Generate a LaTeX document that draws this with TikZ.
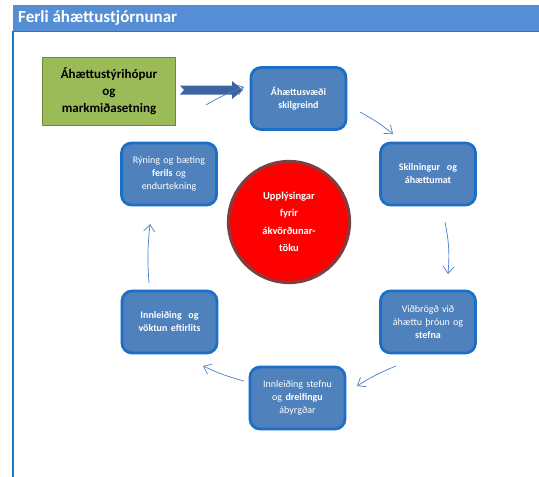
\documentclass[tikz,border=0pt]{standalone}
\usepackage{fontspec}
\setmainfont{Carlito}
\usetikzlibrary{arrows.meta}
\definecolor{titlebar}{HTML}{558ED5}
\definecolor{frameblue}{HTML}{1F78C8}
\definecolor{boxfill}{HTML}{4F81BD}
\definecolor{boxedge}{HTML}{1C6FC4}
\definecolor{greenfill}{HTML}{9BBB59}
\definecolor{greenedge}{HTML}{6E8A3A}
\definecolor{circedge}{HTML}{7F3F3F}
\definecolor{bigarrow}{HTML}{3B64A0}
\definecolor{thinarrow}{HTML}{4A7EC8}
\tikzset{
  x=1pt,y=-1pt,
  stepbox/.style={draw=boxedge,line width=2.8pt,fill=boxfill,rounded corners=10pt,
    minimum width=95pt,minimum height=62pt,text width=88pt,align=center,
    text=white,font=\fontsize{10}{13}\selectfont,inner sep=2pt},
  cyc/.style={draw=thinarrow,line width=0.7pt,-{Straight Barb[length=7pt,width=11pt]}},
}
\begin{document}
\begin{tikzpicture}
\useasboundingbox (0,0) rectangle (539,477);
\fill[white] (0,0) rectangle (539,477);
% title bar
\fill[titlebar] (13,5) rectangle (539,31);
\node[anchor=west,text=white,font=\fontsize{17}{19}\selectfont\bfseries,inner sep=0pt] (title) at (18,18) {Ferli áhættustjórnunar};
\draw[frameblue,line width=1.6pt] (539,31.5) -- (13,31.5) -- (13,477);
% green box
\node[draw=greenedge,line width=1.8pt,fill=greenfill,minimum width=133pt,minimum height=68pt,
  text width=128pt,align=center,font=\fontsize{13}{17}\selectfont\bfseries,inner sep=1pt] (start) at (109,91.5)
  {Áhættustýrihópur\\og\\markmiðasetning};
% steps
\node[stepbox] (s1) at (298.5,98.5) {\textbf{Áhættusvæði}\\\textbf{skilgreind}};
\node[stepbox] (s2) at (428,174) {\textbf{Skilningur\ \ og}\\\textbf{áhættumat}};
\node[stepbox] (s3) at (428,322) {Viðbrögð við\\áhættu þróun\ og\\\textbf{stefna}};
\node[stepbox] (s4) at (297.5,398) {Innleiðing stefnu\\og \textbf{dreifingu}\\ábyrgðar};
\node[stepbox] (s5) at (169.5,322) {\textbf{Innleiðing\ \ og}\\\textbf{vöktun eftirlits}};
\node[stepbox] (s6) at (169,174) {Rýning og bæting\\\textbf{ferils} og\\endurtekning};
% circle
\node[circle,draw=circedge,line width=3.2pt,fill=red,minimum size=121pt,text width=64pt,align=center,
  text=white,font=\fontsize{10.5}{17.5}\selectfont\bfseries,inner sep=0pt] (info) at (289,222)
  {Upplýsingar\\fyrir\\ákvörðunar-\\töku};
% big arrow (block arrow with notched tail)
\coordinate (bas) at (180,90);
\coordinate (bae) at (243,90);
\fill[bigarrow] ([yshift=4.5pt]bas) -- ([xshift=-11pt,yshift=4.5pt]bae) -- ([xshift=-11pt,yshift=9pt]bae)
  -- (bae) -- ([xshift=-11pt,yshift=-9pt]bae) -- ([xshift=-11pt,yshift=-4.5pt]bae)
  -- ([yshift=-4.5pt]bas) -- ([xshift=4pt]bas) -- cycle;
\coordinate (a1s) at (360,112);
\coordinate (a1e) at (393,134);
\coordinate (a2s) at (445,222);
\coordinate (a2e) at (448,274);
\coordinate (a3s) at (396,366);
\coordinate (a3e) at (357,386);
\coordinate (a4s) at (244,381);
\coordinate (a4e) at (203,366);
\coordinate (a5s) at (149,283);
\coordinate (a5e) at (150,224);
\coordinate (a6s) at (206,105);
\coordinate (a6e) at (244,87);
\draw[cyc] (a1s) to[bend left=5] (a1e);
\draw[cyc] (a2s) to[bend left=8] (a2e);
\draw[cyc] (a3s) to[bend right=5] (a3e);
\draw[cyc] (a4s) to[bend left=5] (a4e);
\draw[cyc] (a5s) to[bend left=5] (a5e);
\draw[cyc] (a6s) to[bend left=5] (a6e);
\end{tikzpicture}
\end{document}
